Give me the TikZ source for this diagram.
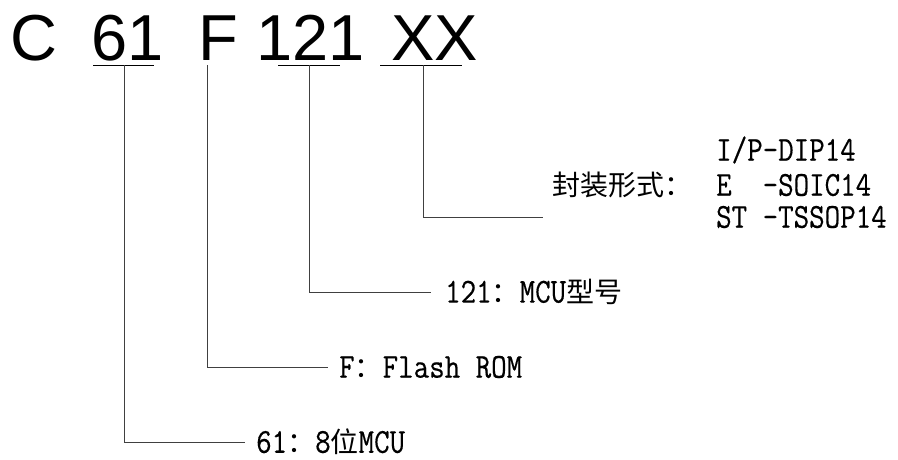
\documentclass[tikz,border=0pt]{standalone}
\usepackage{fontspec}
\usetikzlibrary{positioning}
\newfontfamily\partfont{Liberation Sans}
\newfontfamily\cnfont{Noto Sans CJK SC}
\newfontfamily\asciifont[FakeStretch=0.86,FakeBold=0.4]{Latin Modern Mono}
\newcommand{\zh}[1]{{\fontsize{28}{30}\selectfont\cnfont #1}}

\begin{document}
\begin{tikzpicture}[
  x=1pt, y=-1pt,
  part/.style={font=\partfont\fontsize{65}{65}\selectfont, inner sep=0pt, anchor=base west},
  lbl/.style={font=\asciifont\fontsize{35}{35}\selectfont, inner sep=0pt, anchor=west},
  uline/.style={line width=1pt},
  conn/.style={line width=1pt, black!75}
]
\useasboundingbox (0,0) rectangle (898,459);

% part number
\node[part] (C) at (10,60) {C};
\node[part] (p61) at (91,60) {61};
\node[part] (F) at (198,60) {F};
\node[part] (p121) at (256,60) {121};
\node[part] (XX) at (391,60) {XX};

\draw[uline] (93,65) -- (154,65);
\draw[uline] (278,65) -- (340,65);
\draw[uline] (380,65) -- (462,65);

\coordinate (u61) at (124,65);
\coordinate (uF) at (207,65);
\coordinate (u121) at (309,65);
\coordinate (uXX) at (423,65);

% labels
\node[lbl] (dip) at (716,150) {I/P-DIP14};
\node[lbl] (soic) at (716,185) {E~~-SOIC14};
\node[lbl] (tssop) at (716,217) {ST~-TSSOP14};
\node[lbl] (pkg) at (552,185) {\zh{封装形式：}};
\node[lbl] (l121) at (445,292) {121\zh{：}MCU\zh{型号}};
\node[lbl] (lF) at (339,367) {F\zh{：}Flash ROM};
\node[lbl] (l61) at (256,442) {61\zh{：}8\zh{位}MCU};

\draw[conn] (uXX) |- ([xshift=-9pt]pkg.west |- tssop.west);
\draw[conn] (u121) |- ([xshift=-14pt]l121.west);
\draw[conn] (uF) |- ([xshift=-11pt]lF.west);
\draw[conn] (u61) |- ([xshift=-11pt]l61.west);
\end{tikzpicture}
\end{document}
